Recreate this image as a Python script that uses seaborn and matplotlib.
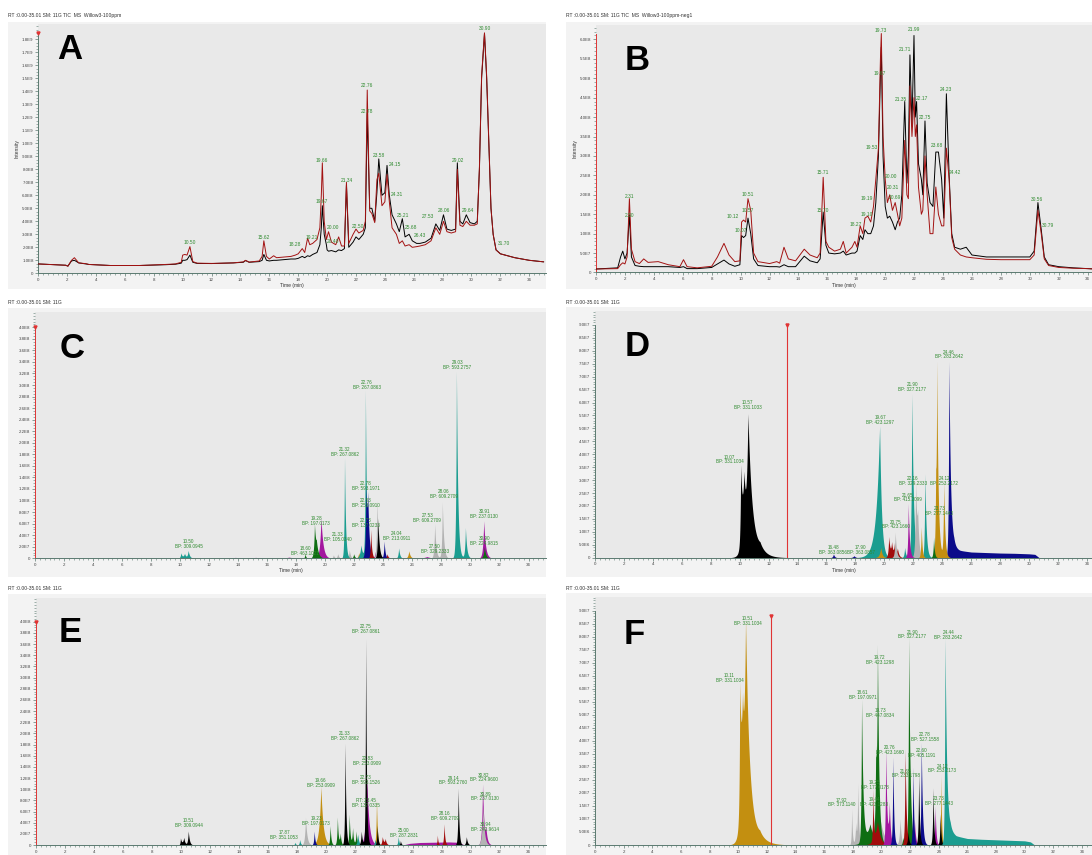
import numpy as np
import matplotlib
matplotlib.use("Agg")
import matplotlib.pyplot as plt
import seaborn as sns
from matplotlib.patches import Rectangle
from matplotlib.ticker import MultipleLocator, FuncFormatter

# ---------------- DATA ----------------
# Panel A : TIC (x1E8)
A_t = [0, 1.9, 2.05, 2.3, 2.5, 2.8, 3.3, 3.5, 5, 7, 8.8, 9.5, 9.9, 10.0, 10.15, 10.3, 10.5, 10.7, 11, 12,
       13.5, 14.2, 14.35, 14.6, 15.3, 15.5, 15.62, 15.8, 16.0, 16.3, 16.5, 17.0, 17.5, 17.8, 18.0, 18.28,
       18.45, 18.65, 18.8, 19.0, 19.3, 19.5, 19.6, 19.67, 19.8, 19.95, 20.0, 20.1, 20.3, 20.6, 20.8, 21.0,
       21.2, 21.34, 21.5, 21.8, 22.0, 22.2, 22.5, 22.65, 22.78, 22.95, 23.1, 23.3, 23.45, 23.58, 23.8, 24.0,
       24.15, 24.31, 24.5, 24.8, 25.0, 25.21, 25.4, 25.68, 25.9, 26.2, 26.43, 26.8, 27.2, 27.53, 27.8, 28.06,
       28.3, 28.6, 28.9, 29.02, 29.2, 29.4, 29.64, 29.9, 30.2, 30.4, 30.55, 30.7, 30.9, 31.05, 31.2, 31.35,
       31.5, 31.7, 32.0, 33.0, 34.0, 35.0]
A_black = [0.72, 0.62, 0.55, 0.95, 1.0, 0.8, 0.72, 0.68, 0.6, 0.6, 0.66, 0.7, 0.78, 1.0, 1.0, 1.05, 1.4, 0.85, 0.76, 0.75,
           0.8, 0.85, 0.98, 0.85, 0.9, 1.0, 1.45, 1.0, 0.95, 1.0, 1.0, 1.05, 1.1, 1.1, 1.15, 1.3,
           1.2, 1.35, 1.3, 1.45, 1.6, 2.2, 3.5, 5.2, 3.0, 2.2, 1.8, 1.7, 1.75, 1.65, 1.8, 1.75,
           1.9, 6.8, 2.0, 2.4, 2.8, 2.6, 3.0, 3.5, 12.3, 5.0, 5.0, 4.0, 6.2, 8.8, 6.0, 6.2,
           8.3, 6.0, 4.5, 3.8, 3.2, 4.2, 2.8, 3.0, 2.5, 2.3, 2.3, 2.4, 2.7, 3.8, 3.3, 4.5,
           3.4, 3.3, 3.4, 8.5, 4.0, 3.8, 4.5, 3.9, 3.8, 4.0, 8.0, 15.0, 18.45, 15.0, 10.0, 5.0,
           3.0, 1.8, 1.5, 1.2, 1.0, 0.88]
A_red = [0.72, 0.62, 0.55, 1.0, 1.2, 0.8, 0.74, 0.68, 0.6, 0.6, 0.68, 0.72, 0.85, 1.4, 1.45, 1.4, 2.05, 0.9, 0.78, 0.76,
         0.8, 0.88, 1.0, 0.86, 0.95, 1.3, 2.5, 1.3, 1.1, 1.35, 1.2, 1.25, 1.3, 1.4, 1.5, 1.9,
         1.6, 2.7, 2.2, 2.3, 2.6, 3.5, 6.0, 8.5, 4.0, 2.6, 2.8, 3.2, 2.4, 2.2, 2.8, 2.1,
         2.1, 7.0, 2.3, 3.0, 3.4, 3.1, 3.3, 4.0, 14.1, 4.8, 4.6, 3.9, 7.2, 7.7, 5.2, 5.5,
         7.6, 5.5, 3.5, 3.0, 2.3, 2.5, 2.1, 2.2, 2.0, 2.05, 2.1, 2.2, 2.5, 3.5, 3.0, 4.0,
         3.2, 3.1, 3.2, 8.0, 3.7, 3.6, 4.0, 3.7, 3.7, 3.8, 8.2, 15.2, 18.5, 15.2, 10.2, 5.0,
         3.0, 1.8, 1.5, 1.2, 1.0, 0.88]
A_lab_x = [10.49, 15.6, 17.77, 18.95, 19.65, 19.65, 20.38, 20.38, 21.34, 22.14, 22.79, 22.79, 23.58, 24.67,
           24.84, 25.25, 25.83, 26.43, 27.01, 28.09, 29.06, 29.78, 30.91, 32.24]
A_lab_y = [2.37, 2.78, 2.19, 2.78, 8.66, 5.55, 3.52, 2.42, 7.12, 3.62, 14.45, 12.44, 9.05, 8.38,
           6.07, 4.42, 3.55, 2.88, 4.40, 4.86, 8.66, 4.81, 18.82, 2.31]
A_lab_txt = ["10.50", "15.62", "18.28", "19.21", "19.66", "19.67", "20.00", "20.40", "21.34", "22.50", "22.76",
             "22.78", "23.58", "24.15", "24.31", "25.21", "25.68", "26.43", "27.53", "28.06", "29.02", "29.64",
             "30.90", "31.70"]

# Panel B : TIC negative (x1E7)
B_t = [0, 1.5, 1.7, 1.85, 2.0, 2.15, 2.31, 2.45, 2.7, 3.0, 3.3, 3.6, 4.3, 5.0, 5.8, 6.05, 6.3, 7.0, 8.0, 8.4,
       8.85, 9.2, 9.6, 9.95, 10.07, 10.2, 10.35, 10.51, 10.7, 10.9, 11.2, 12.0, 12.5, 12.7, 13.0, 13.3, 13.8,
       14.4, 14.8, 15.3, 15.5, 15.71, 15.9, 16.1, 16.5, 16.9, 17.1, 17.3, 17.7, 17.9, 18.05, 18.27, 18.45,
       18.6, 18.8, 19.0, 19.19, 19.35, 19.53, 19.67, 19.73, 19.85, 20.0, 20.15, 20.31, 20.5, 20.69, 20.85,
       21.0, 21.15, 21.35, 21.5, 21.6, 21.71, 21.85, 21.99, 22.08, 22.17, 22.3, 22.5, 22.6, 22.75, 22.9,
       23.1, 23.3, 23.5, 23.68, 23.9, 24.05, 24.23, 24.42, 24.6, 24.8, 25.2, 25.6, 26.0, 27.0, 28.0, 29.0,
       30.0, 30.3, 30.56, 30.79, 31.0, 31.3, 32.0, 33.0, 34.0, 35.0]
B_black = [0.9, 1.2, 4.0, 5.5, 3.5, 5.0, 14.8, 4.0, 1.8, 1.6, 1.5, 1.5, 1.5, 1.5, 1.3, 1.5, 1.0, 1.0, 1.3, 2.2,
           3.2, 2.2, 1.6, 2.0, 9.5, 9.0, 9.5, 14.0, 10.0, 3.5, 1.8, 1.5, 1.5, 1.4, 2.0, 1.5, 1.5,
           4.2, 3.0, 2.5, 3.5, 15.5, 7.0, 5.0, 4.8, 5.0, 5.5, 4.5, 5.0, 5.0, 5.5, 9.5, 8.5,
           11.0, 10.0, 10.0, 12.0, 18.0, 30.0, 51.0, 58.0, 30.0, 17.0, 14.0, 14.5, 13.0, 11.0, 13.0,
           14.0, 20.0, 44.0, 23.0, 30.0, 56.0, 38.0, 61.0, 40.0, 44.0, 28.0, 24.0, 20.0, 39.0, 23.0,
           18.0, 17.0, 31.0, 31.0, 24.0, 14.0, 46.0, 25.0, 10.0, 6.5, 6.0, 6.5, 4.5, 4.0, 4.0, 4.0,
           4.0, 5.5, 18.0, 11.0, 4.0, 2.0, 1.5, 1.2, 1.0, 0.8]
B_red = [0.9, 1.0, 2.0, 2.5, 2.2, 4.0, 19.0, 6.0, 2.8, 2.3, 3.5, 2.6, 2.8, 2.0, 1.5, 3.3, 1.5, 1.2, 1.6, 4.0,
         7.5, 4.5, 2.8, 3.0, 13.0, 13.5, 13.0, 19.0, 16.0, 5.0, 2.8, 2.3, 2.8, 2.4, 6.5, 3.5, 3.0,
         6.0, 4.5, 3.8, 5.0, 24.5, 8.0, 6.5, 5.5, 6.0, 8.0, 5.0, 6.5, 8.0, 6.5, 12.0, 10.0,
         14.0, 14.5, 13.0, 17.0, 24.0, 32.0, 55.0, 61.5, 35.0, 24.0, 18.0, 20.0, 16.0, 18.0, 15.0,
         12.0, 14.0, 34.0, 20.0, 19.0, 48.0, 35.0, 45.0, 35.0, 38.0, 22.0, 15.0, 16.0, 30.0, 20.0,
         10.0, 10.0, 22.0, 15.0, 12.0, 12.0, 32.0, 24.0, 9.0, 6.0, 4.5, 4.0, 3.8, 3.4, 3.3, 3.3,
         3.3, 4.5, 16.0, 10.0, 3.5, 1.8, 1.3, 1.1, 1.0, 0.8]
B_lab_x = [2.29, 2.29, 9.45, 10.0, 10.53, 10.53, 15.66, 15.66, 17.98, 18.70, 18.70, 19.06, 19.61, 19.71,
           20.41, 20.55, 20.70, 21.06, 21.37, 22.0, 22.53, 22.75, 23.61, 24.22, 24.82, 30.53, 31.25]
B_lab_y = [19.66, 14.76, 14.5, 10.73, 20.0, 16.05, 25.67, 16.05, 12.45, 19.14, 15.0, 32.1, 51.2, 62.4,
           24.6, 21.8, 19.3, 44.6, 57.3, 62.6, 44.8, 39.9, 32.6, 47.0, 25.7, 18.9, 12.0]
B_lab_txt = ["2.31", "2.30", "10.12", "10.07", "10.51", "10.57", "15.71", "15.70", "18.27", "19.19", "19.10",
             "19.53", "19.67", "19.73", "20.00", "20.31", "20.69", "21.35", "21.71", "21.99", "22.17", "22.75",
             "23.68", "24.23", "24.42", "30.56", "30.79"]

# Panel C : base-peak components (x1E7)
C_rt = [10.05, 10.3, 10.55, 13.8, 15.2, 17.5, 18.6, 19.25, 19.38, 19.7, 20.55, 20.85, 21.35, 21.32, 21.65,
        21.95, 22.3, 22.45, 22.76, 22.8, 22.92, 22.85, 23.12, 23.55, 23.62, 23.45, 24.05, 24.25, 25.05, 25.75,
        27.0, 27.53, 28.06, 29.03, 29.65, 30.91, 30.95]
C_h = [0.9, 0.8, 1.3, 0.15, 0.15, 0.2, 0.8, 5.5, 2.0, 7.0, 0.6, 0.8, 2.8, 17.5, 1.5,
       0.8, 1.0, 2.3, 29.0, 12.0, 8.0, 1.5, 5.0, 10.0, 7.0, 1.2, 3.0, 0.8, 1.8, 1.3,
       0.3, 6.0, 9.8, 32.5, 5.3, 6.5, 2.0]
C_wl = [0.05, 0.1, 0.06, 0.5, 0.5, 0.4, 0.04, 0.05, 0.1, 0.09, 0.05, 0.05, 0.06, 0.035, 0.05,
        0.05, 0.06, 0.09, 0.035, 0.05, 0.05, 0.06, 0.035, 0.045, 0.045, 0.07, 0.045, 0.05, 0.05, 0.07,
        0.3, 0.05, 0.045, 0.045, 0.05, 0.07, 0.07]
C_wr = [0.08, 0.1, 0.1, 0.5, 0.5, 0.4, 0.06, 0.09, 0.15, 0.14, 0.08, 0.08, 0.1, 0.07, 0.08,
        0.08, 0.08, 0.13, 0.07, 0.1, 0.09, 0.08, 0.07, 0.09, 0.09, 0.09, 0.07, 0.08, 0.08, 0.1,
        0.3, 0.09, 0.09, 0.09, 0.09, 0.12, 0.1]
C_col = ["teal", "teal", "teal", "purple", "purple", "purple", "green", "green", "green", "purple", "gray",
         "gray", "orange", "teal", "gray", "green", "orange", "teal", "teal", "navy", "navy", "green", "red",
         "gray", "black", "purple", "navy", "red", "teal", "orange", "purple", "gray", "gray", "teal", "teal",
         "purple", "green"]
C_lab_x = [10.57, 18.6, 19.37, 20.85, 21.35, 22.84, 22.81, 22.81, 22.81, 24.92, 27.02, 27.55, 28.14, 29.10,
           30.94, 30.94]
C_lab_y = [2.48, 1.27, 6.46, 3.75, 18.4, 30.06, 12.52, 9.52, 6.06, 3.87, 7.04, 1.56, 11.14, 33.47, 7.67, 3.06]
C_lab_txt = ["10.50\nBP: 309.0945", "18.60\nBP: 463.1021", "19.28\nBP: 197.0173", "21.33\nBP: 105.0340",
             "21.32\nBP: 267.0862", "22.76\nBP: 267.0863", "22.78\nBP: 593.1971", "22.83\nBP: 253.0910",
             "22.73\nBP: 137.0233", "24.04\nBP: 213.0911", "27.53\nBP: 609.2709", "27.50\nBP: 329.2333",
             "28.06\nBP: 609.2709", "29.03\nBP: 593.2757", "30.91\nBP: 237.0130", "30.90\nBP: 224.9815"]

# Panel D : base-peak components (x1E7)
D_rt = [10.07, 10.3, 10.57, 11.4, 16.48, 17.9, 19.67, 19.67, 19.75, 20.3, 20.5, 20.7, 20.9, 20.75, 21.4,
        21.65, 21.9, 22.16, 22.3, 22.0, 22.55, 22.8, 23.4, 23.55, 23.62, 24.1, 23.75, 24.46]
D_h = [3.0, 2.35, 5.1, 0.3, 0.15, 0.08, 5.1, 1.0, 0.4, 0.8, 0.5, 0.5, 0.3, 1.0, 0.4,
       2.1, 6.35, 2.8, 1.2, 0.5, 1.2, 3.25, 0.8, 2.3, 7.05, 2.9, 0.6, 7.6]
D_wl = [0.04, 0.15, 0.12, 0.4, 0.06, 0.1, 0.25, 0.08, 0.1, 0.05, 0.06, 0.06, 0.06, 0.05, 0.05,
        0.04, 0.05, 0.05, 0.06, 0.05, 0.04, 0.04, 0.04, 0.05, 0.04, 0.04, 0.05, 0.04]
D_wr = [0.12, 0.15, 0.3, 0.5, 0.08, 0.1, 0.13, 0.1, 0.1, 0.1, 0.1, 0.1, 0.1, 0.08, 0.08,
        0.08, 0.11, 0.1, 0.08, 0.08, 0.06, 0.09, 0.06, 0.05, 0.1, 0.08, 0.08, 0.12]
D_col = ["black", "black", "black", "black", "navy", "navy", "teal", "black", "orange", "red", "red", "red",
         "red", "gray", "teal", "purple", "teal", "gray", "gray", "black", "orange", "teal", "green", "orange",
         "orange", "orange", "teal", "navy"]
D_tail_t = [24.55, 24.8, 25.2, 26.0, 27.0, 28.0, 29.0, 30.0, 30.4, 30.7]
D_tail_v = [0.0, 0.35, 0.28, 0.22, 0.2, 0.18, 0.17, 0.15, 0.13, 0.0]
D_lab_x = [9.32, 10.57, 16.46, 18.38, 19.70, 20.78, 21.62, 21.94, 21.98, 24.15, 23.79, 24.46]
D_lab_y = [3.80, 5.91, 0.30, 0.30, 5.31, 1.28, 2.33, 6.60, 2.97, 2.97, 1.80, 7.86]
D_lab_txt = ["10.07\nBP: 331.1034", "10.57\nBP: 331.1033", "16.48\nBP: 363.0856", "17.90\nBP: 363.0857",
             "19.67\nBP: 423.1297", "20.75\nBP: 423.1660", "21.65\nBP: 415.2099", "21.90\nBP: 327.2177",
             "22.16\nBP: 329.2333", "24.12\nBP: 253.2172", "23.73\nBP: 277.1443", "24.46\nBP: 283.2642"]

# Panel E : base-peak components (x1E7)
E_rt = [9.97, 10.2, 10.51, 17.87, 18.2, 18.6, 19.2, 19.66, 19.75, 20.3, 20.8, 21.0, 21.33, 21.3, 21.45,
        21.62, 21.85, 22.1, 22.2, 22.45, 22.75, 22.83, 23.5, 23.55, 23.4, 23.9, 24.1, 25.0, 25.15, 27.7,
        28.16, 29.14, 29.7, 30.85, 30.82, 31.05]
E_h = [1.2, 1.3, 2.5, 0.5, 1.0, 5.0, 2.5, 10.5, 2.0, 3.5, 5.0, 2.0, 18.3, 2.5, 1.5,
       5.5, 3.0, 2.5, 2.0, 2.5, 37.0, 12.0, 8.2, 3.5, 1.0, 1.5, 1.0, 1.5, 0.8, 1.8,
       3.8, 10.2, 1.5, 7.0, 10.9, 2.2]
E_wl = [0.03, 0.08, 0.05, 0.04, 0.04, 0.06, 0.04, 0.12, 0.05, 0.04, 0.04, 0.05, 0.035, 0.04, 0.05,
        0.04, 0.05, 0.05, 0.05, 0.05, 0.03, 0.1, 0.04, 0.04, 0.05, 0.05, 0.05, 0.04, 0.04, 0.03,
        0.04, 0.04, 0.05, 0.08, 0.06, 0.06]
E_wr = [0.08, 0.08, 0.08, 0.06, 0.06, 0.1, 0.06, 0.15, 0.1, 0.06, 0.06, 0.06, 0.06, 0.06, 0.06,
        0.06, 0.06, 0.06, 0.08, 0.08, 0.06, 0.15, 0.06, 0.06, 0.08, 0.1, 0.08, 0.06, 0.06, 0.05,
        0.06, 0.06, 0.08, 0.1, 0.1, 0.1]
E_col = ["black", "black", "black", "teal", "teal", "gray", "navy", "orange", "purple", "green", "green",
         "green", "black", "red", "orange", "green", "green", "green", "teal", "black", "black", "purple",
         "orange", "black", "teal", "red", "red", "teal", "black", "red", "red", "black", "black", "gray",
         "purple", "purple"]
E_plat_t = [25.3, 25.8, 26.5, 27.5, 28.5, 29.0, 29.3, 29.6]
E_plat_v = [0.0, 0.3, 0.45, 0.5, 0.55, 0.5, 0.3, 0.0]
E_lab_x = [10.54, 17.12, 19.35, 19.66, 21.31, 22.75, 22.87, 22.75, 22.75, 25.38, 28.2, 28.8, 30.89, 31.01, 31.01]
E_lab_y = [3.89, 1.80, 4.31, 11.08, 19.46, 38.74, 15.09, 11.68, 7.49, 2.10, 5.21, 11.56, 12.1, 8.68, 3.29]
E_lab_txt = ["10.51\nBP: 309.0944", "17.87\nBP: 351.1053", "19.23\nBP: 197.0173", "19.66\nBP: 253.0909",
             "21.33\nBP: 267.0862", "22.75\nBP: 267.0861", "22.83\nBP: 253.0909", "22.73\nBP: 593.1526",
             "RT: 23.45\nBP: 137.0335", "25.00\nBP: 287.2831", "28.16\nBP: 609.2709", "29.14\nBP: 593.2760",
             "30.82\nBP: 224.9600", "30.89\nBP: 237.0130", "30.94\nBP: 242.9614"]

# Panel F : base-peak components (x1E7)
F_rt = [10.11, 10.3, 10.51, 11.5, 17.92, 18.35, 18.2, 19.7, 21.3, 18.61, 19.72, 19.6, 19.2, 21.5, 21.9,
        19.4, 19.72, 21.65, 20.3, 20.55, 22.3, 23.75, 20.8, 22.2, 22.78, 22.6, 23.6, 24.1, 21.85, 21.6,
        24.15, 24.44]
F_h = [5.0, 3.5, 7.6, 0.3, 1.4, 2.3, 0.8, 2.0, 1.0, 5.5, 6.9, 3.0, 0.8, 0.3, 8.0,
       2.0, 0.9, 3.7, 3.7, 1.5, 1.0, 1.5, 3.4, 3.0, 3.95, 2.8, 2.2, 1.2, 0.5, 0.5,
       2.7, 7.95]
F_wl = [0.04, 0.15, 0.12, 0.5, 0.03, 0.04, 0.05, 0.3, 0.06, 0.04, 0.05, 0.05, 0.3, 0.05, 0.04,
        0.03, 0.2, 0.04, 0.04, 0.06, 0.06, 0.04, 0.04, 0.04, 0.04, 0.04, 0.04, 0.04, 0.05, 0.05,
        0.03, 0.04]
F_wr = [0.12, 0.15, 0.3, 0.6, 0.05, 0.06, 0.06, 0.3, 0.08, 0.1, 0.1, 0.08, 0.3, 0.08, 0.1,
        0.05, 0.2, 0.08, 0.08, 0.08, 0.08, 0.06, 0.06, 0.06, 0.08, 0.06, 0.06, 0.06, 0.08, 0.08,
        0.05, 0.12]
F_col = ["orange", "orange", "orange", "orange", "gray", "gray", "gray", "gray", "gray", "green", "green",
         "green", "green", "green", "green", "red", "red", "red", "purple", "purple", "purple", "purple",
         "navy", "navy", "navy", "black", "black", "black", "black", "orange", "orange", "teal"]
F_tail_t = [24.5, 24.8, 25.2, 26.0, 27.0, 28.0, 29.0, 30.0, 30.4, 30.7]
F_tail_v = [0.0, 0.5, 0.35, 0.25, 0.22, 0.2, 0.18, 0.16, 0.12, 0.0]
F_lab_x = [9.39, 10.66, 17.21, 18.67, 19.88, 19.93, 19.51, 19.51, 20.6, 21.70, 22.14, 22.79, 23.03, 24.25, 24.0,
           24.68]
F_lab_y = [6.43, 8.60, 1.63, 5.76, 7.11, 5.06, 2.30, 1.66, 3.65, 2.75, 8.09, 3.55, 4.16, 2.94, 1.69, 8.07]
F_lab_txt = ["10.11\nBP: 331.1034", "10.51\nBP: 331.1034", "17.92\nBP: 373.1140", "18.61\nBP: 197.0971",
             "19.72\nBP: 423.1298", "19.73\nBP: 447.0834", "19.25\nBP: 177.0178", "19.44\nBP: 423.1283",
             "20.76\nBP: 423.1660", "21.65\nBP: 233.1798", "21.90\nBP: 327.2177", "22.60\nBP: 405.1191",
             "22.78\nBP: 527.1558", "24.12\nBP: 253.2173", "23.73\nBP: 277.1443", "24.44\nBP: 283.2642"]

headers = ["RT :0.00-35.01 SM: 11G TIC  MS  Willow3-100ppm",
           "RT :0.00-35.01 SM: 11G TIC  MS  Willow3-100ppm-neg1",
           "RT :0.00-35.01 SM: 11G", "RT :0.00-35.01 SM: 11G",
           "RT :0.00-35.01 SM: 11G", "RT :0.00-35.01 SM: 11G"]
letters = ["A", "B", "C", "D", "E", "F"]

# ---------------- STYLE ----------------
sns.set_theme(style="white")
plt.rcParams['font.family'] = ['Liberation Sans', 'DejaVu Sans']

palette = {"teal": "#1b9d90", "green": "#0e6e12", "purple": "#a3169f", "navy": "#0b0b8a",
           "orange": "#c38f10", "red": "#a10c0c", "gray": "#b3b3b3", "black": "#000000"}
TICKC = "#5b7a70"
LABC = "#2f8a2f"
AXRED = "#e03434"

W, H = 1092, 855
fig = plt.figure(figsize=(W / 100, H / 100), dpi=100)
fig.patch.set_facecolor("white")


def add_ax(l, t, r, b):
    return fig.add_axes([l / W, 1 - b / H, (r - l) / W, (b - t) / H])


def outer(l, t, r, b):
    fig.add_artist(Rectangle((l / W, 1 - b / H), (r - l) / W, (b - t) / H, transform=fig.transFigure,
                             facecolor="#f3f3f3", edgecolor="none", zorder=-5))


def sci(v, pos):
    if abs(v) < 1:
        return "0"
    e = int(np.floor(np.log10(abs(v)) + 1e-9))
    return f"{v / 10 ** e:.1f}E{e}"


def style(ax, xmax, ymax, ymaj, ymin, ytop, redleft=False, xlabel=True):
    ax.set_facecolor("#e9e9e9")
    ax.set_xlim(0, xmax)
    ax.set_ylim(0, ymax)
    for s in ["top", "right"]:
        ax.spines[s].set_visible(False)
    ax.spines["left"].set_color(AXRED if redleft else TICKC)
    ax.spines["bottom"].set_color(TICKC)
    ax.spines["left"].set_linewidth(0.7)
    ax.spines["bottom"].set_linewidth(0.7)
    ax.spines["left"].set_bounds(0, ytop)
    ax.xaxis.set_major_locator(MultipleLocator(2))
    ax.xaxis.set_minor_locator(MultipleLocator(1 / 3))
    ax.yaxis.set_minor_locator(MultipleLocator(ymin))
    ax.set_yticks([v for v in np.arange(0, ytop + ymaj * 0.5, ymaj)])
    ax.yaxis.set_major_formatter(FuncFormatter(sci))
    ax.tick_params(which="major", length=2.2, width=0.5, color=TICKC, labelsize=3.2,
                   labelcolor="#444444", pad=1.2, direction="out", left=True, bottom=True)
    ax.tick_params(which="minor", length=1.2, width=0.4, color=TICKC, direction="out", left=True, bottom=True)
    if xlabel:
        ax.set_xlabel("Time (min)", fontsize=3.6, labelpad=1, color="#333333")
    else:
        ax.set_xlabel("")
    ax.set_ylabel("")
    ax.grid(False)


tgrid = np.linspace(0, 35.01, 7003)


def draw_peaks(ax, rts, hs, wls, wrs, cols, order, scale, extra_col=None, extra_t=None, extra_v=None):
    for c in order:
        y = np.zeros_like(tgrid)
        for rt, h, wl, wr, cc in zip(rts, hs, wls, wrs, cols):
            if cc != c:
                continue
            d = tgrid - rt
            left = np.exp(np.clip(d / wl, -60, 0))
            right = np.exp(-np.clip(d / wr, 0, 60))
            y += h * np.where(d < 0, left, right)
        if extra_col == c:
            y += np.interp(tgrid, extra_t, extra_v, left=0, right=0)
        ax.fill_between(tgrid, 0, y * scale, color=palette[c], lw=0, zorder=2)
    ax.axhline(0, color="#3c8a5c", lw=0.7, ls=(0, (2, 1.5)), zorder=3)


def labels(ax, xs, ys, txts, scale, fs=3.3):
    for x, y, s in zip(xs, ys, txts):
        ax.text(x, y * scale, s, ha="center", va="center", fontsize=fs, color=LABC,
                linespacing=0.95, zorder=5)


# outer light panels
outer(8, 22, 546, 289)
outer(566, 22, 1092, 289)
outer(8, 308, 546, 577)
outer(566, 307, 1092, 577)
outer(8, 594, 546, 855)
outer(566, 593, 1092, 855)

# ---------------- PANEL A ----------------
axA = add_ax(38.3, 24, 546, 273.3)
sns.lineplot(x=np.array(A_t), y=np.array(A_black) * 1e8, ax=axA, color="black", lw=0.7, zorder=3)
sns.lineplot(x=np.array(A_t), y=np.array(A_red) * 1e8, ax=axA, color="#a31212", lw=0.7, zorder=4)
style(axA, 35.16, 1.918e9, 1e8, 2.5e7, 1.85e9)
axA.set_ylabel("Intensity", fontsize=3.6, labelpad=2, color="#333333")
axA.plot([0], [1.85e9], marker="v", color=AXRED, ms=2.2, clip_on=False, zorder=6)
labels(axA, A_lab_x, A_lab_y, A_lab_txt, 1e8, fs=3.5)

# ---------------- PANEL B ----------------
axB = add_ax(596, 25, 1092, 272.5)
sns.lineplot(x=np.array(B_t), y=np.array(B_black) * 1e7, ax=axB, color="black", lw=0.7, zorder=3)
sns.lineplot(x=np.array(B_t), y=np.array(B_red) * 1e7, ax=axB, color="#a31212", lw=0.7, zorder=4)
style(axB, 34.3, 6.37e8, 5e7, 1e7, 6.15e8, redleft=True)
axB.set_yticks(np.arange(0, 6.01e8, 5e7))
axB.set_ylabel("Intensity", fontsize=3.6, labelpad=2, color="#333333")
labels(axB, B_lab_x, B_lab_y, B_lab_txt, 1e7, fs=3.5)

# ---------------- PANEL C ----------------
axC = add_ax(35, 311.7, 546, 558.3)
draw_peaks(axC, C_rt, C_h, C_wl, C_wr, C_col,
           ["purple", "gray", "orange", "green", "teal", "navy", "red", "black"], 1e7)
style(axC, 35.2, 4.27e8, 2e7, 5e6, 4.0e8, redleft=True)
axC.plot([0], [4.0e8], marker="v", color=AXRED, ms=2.2, clip_on=False, zorder=6)
labels(axC, C_lab_x, C_lab_y, C_lab_txt, 1e7)

# ---------------- PANEL D ----------------
axD = add_ax(595, 311, 1092, 557.7)
draw_peaks(axD, D_rt, D_h, D_wl, D_wr, D_col,
           ["black", "navy", "teal", "red", "gray", "purple", "orange", "green"], 1e7,
           extra_col="navy", extra_t=D_tail_t, extra_v=D_tail_v)
style(axD, 34.35, 9.54e7, 5e6, 1e6, 9.0e7)
axD.plot([13.3, 13.3], [0, 9.0e7], color=AXRED, lw=0.8, zorder=4)
axD.plot([13.3], [9.0e7], marker="v", color=AXRED, ms=2.2, zorder=6)
labels(axD, D_lab_x, D_lab_y, D_lab_txt, 1e7)

# ---------------- PANEL E ----------------
axE = add_ax(36, 598.3, 546, 845)
draw_peaks(axE, E_rt, E_h, E_wl, E_wr, E_col,
           ["purple", "gray", "orange", "green", "teal", "navy", "red", "black"], 1e7,
           extra_col="purple", extra_t=E_plat_t, extra_v=E_plat_v)
style(axE, 35.2, 4.42e8, 2e7, 5e6, 4.0e8, redleft=True, xlabel=False)
axE.plot([0], [4.0e8], marker="v", color=AXRED, ms=2.2, clip_on=False, zorder=6)
labels(axE, E_lab_x, E_lab_y, E_lab_txt, 1e7)

# ---------------- PANEL F ----------------
axF = add_ax(595, 596.7, 1092, 845)
draw_peaks(axF, F_rt, F_h, F_wl, F_wr, F_col,
           ["orange", "gray", "green", "red", "purple", "navy", "black", "teal"], 1e7,
           extra_col="teal", extra_t=F_tail_t, extra_v=F_tail_v)
style(axF, 34.7, 9.54e7, 5e6, 1e6, 9.0e7, xlabel=False)
axF.plot([12.3, 12.3], [0, 8.8e7], color=AXRED, lw=0.8, zorder=4)
axF.plot([12.3], [8.8e7], marker="v", color=AXRED, ms=2.2, zorder=6)
labels(axF, F_lab_x, F_lab_y, F_lab_txt, 1e7)

# headers and panel letters
head_pos = [(8, 15), (566, 15), (8, 303), (566, 303), (8, 589), (566, 589)]
for (x, y), s in zip(head_pos, headers):
    fig.text(x / W, 1 - y / H, s, fontsize=3.6, color="#333333", ha="left", va="center")
letter_pos = [(70, 49.5), (637, 60.5), (72, 348), (637.5, 346.5), (70, 632.5), (634.5, 634)]
for (x, y), s in zip(letter_pos, letters):
    fig.text(x / W, 1 - y / H, s, fontsize=25, fontweight="bold", color="black",
             ha="center", va="center", family=["Liberation Sans", "DejaVu Sans"])

fig.savefig("out.png", dpi=100, facecolor="white")
